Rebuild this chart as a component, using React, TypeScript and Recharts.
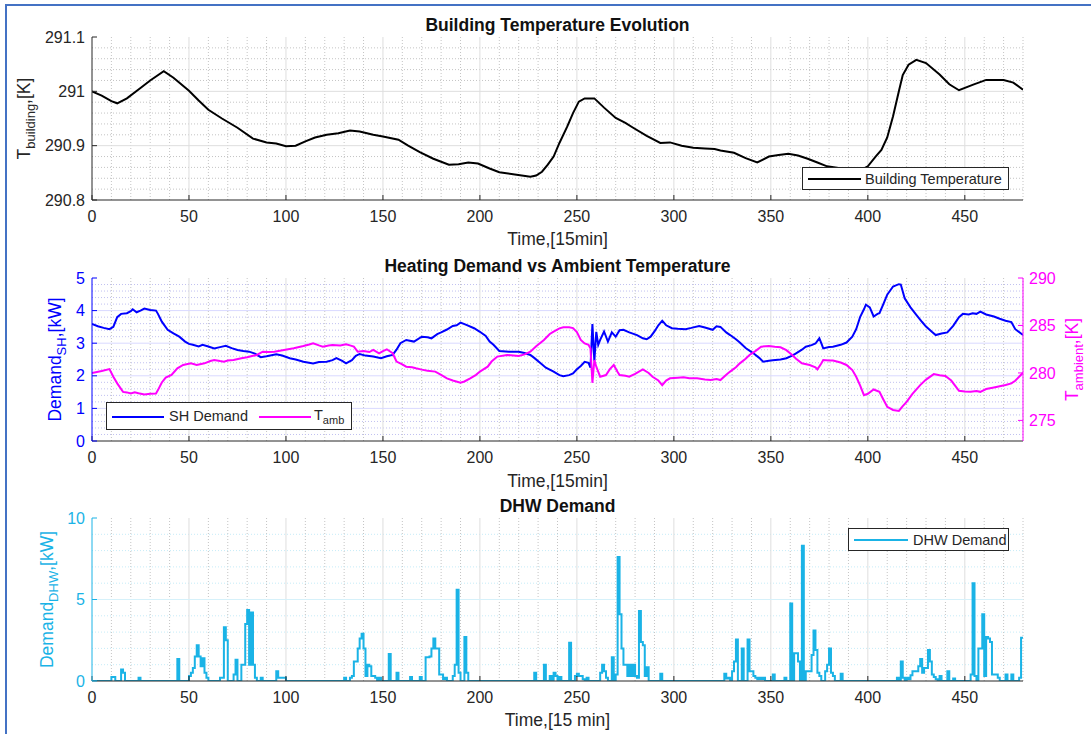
import React from 'react';
import { LineChart, Line, XAxis, YAxis, CartesianGrid } from 'recharts';

const FONT = '"Liberation Sans", Arial, Helvetica, sans-serif';
const DARK = '#262626';
const BLUE = '#0000FF';
const MAGENTA = '#FF00FF';
const CYAN = '#1AB3E6';

// Time axis (15-minute steps)
const timeTicks = [0, 50, 100, 150, 200, 250, 300, 350, 400, 450];
const timeMinor = Array.from({ length: 48 }, (_, i) => (i + 1) * 10).filter((t) => t % 50 !== 0);

// Building temperature [K]
const buildingTime = [
  0, 5, 10, 13, 18, 25, 30, 37, 42, 50, 55, 60, 67, 75, 83, 90, 95, 100, 105, 110, 115, 121, 127, 133, 138,
  145, 150, 158, 163, 169, 176, 184, 189, 194, 199, 205, 210, 218, 226, 229, 232, 235, 238, 241, 245, 248,
  251, 254, 259, 264, 270, 275, 279, 286, 293, 298, 304, 310, 316, 321, 324, 331, 337, 343, 349, 354, 359,
  364, 369, 374, 379, 390, 398, 400, 404, 407, 410, 413, 416, 418, 421, 425, 430, 437, 442, 447, 454, 461,
  470, 475, 480,
];
const buildingTemp = [
  291.0, 290.992, 290.982, 290.978, 290.987, 291.006, 291.02, 291.037, 291.025, 291.001, 290.983, 290.966,
  290.95, 290.933, 290.913, 290.906, 290.904, 290.899, 290.9, 290.908, 290.915, 290.92, 290.923, 290.928,
  290.926, 290.92, 290.917, 290.911, 290.9, 290.888, 290.876, 290.865, 290.866, 290.869, 290.867, 290.858,
  290.851, 290.847, 290.843, 290.845, 290.852, 290.865, 290.88, 290.905, 290.935, 290.96, 290.981, 290.987,
  290.987, 290.97, 290.951, 290.942, 290.933, 290.918, 290.905, 290.906, 290.9, 290.896, 290.895, 290.894,
  290.891, 290.887, 290.877, 290.869, 290.88, 290.883, 290.885, 290.882, 290.876, 290.869, 290.862, 290.856,
  290.858, 290.862, 290.88, 290.892, 290.915, 290.954, 291.0, 291.03, 291.049, 291.058, 291.052, 291.031,
  291.013, 291.002, 291.012, 291.021, 291.021, 291.016, 291.003,
];
const buildingTicks = [290.8, 290.9, 291, 291.1];

// Space-heating demand [kW]
const shTime = [
  0, 3, 6, 9, 11, 13, 15, 18, 20, 21, 23, 25, 27, 30, 33, 34, 36, 39, 42, 45, 48, 50, 52, 55, 57, 60, 63, 66,
  69, 72, 75, 78, 81, 84, 87, 90, 95, 98, 102, 105, 109, 114, 117, 121, 124, 126, 129, 131, 134, 136, 138,
  141, 145, 149, 152, 155, 157, 159, 162, 166, 170, 173, 175, 178, 180, 183, 186, 188, 190, 193, 197, 200,
  203, 205, 207, 210, 215, 220, 223, 226, 228, 231, 234, 238, 241, 243, 246, 248, 250, 252, 254, 256, 257,
  258, 259, 260, 261, 262, 264, 266, 268, 270, 272, 274, 277, 281, 284, 286, 288, 290, 292, 294, 296, 299,
  302, 306, 309, 313, 316, 320, 322, 324, 327, 329, 332, 334, 337, 341, 344, 346, 349, 351, 355, 358, 361,
  363, 366, 368, 371, 373, 375, 376, 377, 380, 382, 386, 389, 392, 394, 396, 398, 399, 401, 403, 405, 406,
  408, 410, 413, 416, 417, 419, 422, 425, 428, 430, 433, 435, 438, 441, 444, 447, 449, 452, 454, 456, 458,
  461, 465, 468, 471, 474, 476, 480,
];
const shDemand = [
  3.59, 3.52, 3.47, 3.43, 3.5, 3.8, 3.9, 3.92, 3.98, 4.04, 3.95, 4.0, 4.06, 4.02, 4.0, 3.9, 3.66, 3.41, 3.3,
  3.2, 3.05, 2.98, 2.95, 2.9, 2.95, 2.9, 2.84, 2.88, 2.92, 2.85, 2.79, 2.76, 2.74, 2.68, 2.57, 2.6, 2.66,
  2.62, 2.54, 2.5, 2.43, 2.38, 2.42, 2.43, 2.48, 2.54, 2.46, 2.38, 2.48, 2.61, 2.67, 2.62, 2.59, 2.54, 2.6,
  2.64, 2.8, 3.0, 3.1, 3.05, 3.2, 3.18, 3.15, 3.28, 3.33, 3.42, 3.53, 3.55, 3.63, 3.56, 3.46, 3.35, 3.22,
  3.05, 2.95, 2.76, 2.74, 2.74, 2.7, 2.64, 2.55, 2.4, 2.25, 2.13, 2.02, 1.99, 2.02, 2.07, 2.2, 2.3, 2.43,
  2.4, 2.25, 3.59, 2.45, 3.35, 2.95, 3.1, 3.36, 3.05, 3.33, 3.2, 3.4, 3.41, 3.33, 3.25, 3.15, 3.12, 3.2,
  3.36, 3.55, 3.69, 3.55, 3.46, 3.44, 3.43, 3.47, 3.53, 3.48, 3.41, 3.52, 3.5, 3.33, 3.25, 3.12, 3.02, 2.85,
  2.69, 2.55, 2.43, 2.46, 2.48, 2.5, 2.54, 2.62, 2.69, 2.8, 2.89, 2.94, 2.99, 3.15, 3.0, 2.84, 2.88, 2.89,
  2.95, 3.02, 3.2, 3.43, 3.8, 4.04, 4.18, 4.1, 3.82, 3.9, 3.92, 4.2, 4.49, 4.74, 4.81, 4.8, 4.38, 4.1, 3.87,
  3.65, 3.51, 3.35, 3.25, 3.3, 3.33, 3.53, 3.8, 3.9, 3.88, 3.92, 3.9, 3.97, 3.88, 3.82, 3.75, 3.69, 3.65,
  3.43, 3.25,
];
const shTicks = [0, 1, 2, 3, 4, 5];

// Ambient temperature [K]
const ambTime = [
  0, 5, 9, 11, 13, 16, 18, 20, 22, 24, 27, 30, 33, 34, 36, 38, 41, 44, 47, 51, 54, 58, 61, 63, 66, 68, 70, 73,
  77, 80, 83, 85, 88, 91, 94, 99, 104, 109, 112, 114, 117, 119, 122, 124, 128, 131, 133, 135, 137, 140, 143,
  145, 148, 150, 152, 155, 157, 160, 162, 165, 167, 170, 173, 177, 180, 183, 186, 190, 192, 195, 198, 200,
  202, 204, 206, 209, 214, 220, 223, 226, 229, 233, 236, 238, 241, 243, 246, 248, 250, 252, 254, 256, 257,
  258, 259, 260, 262, 265, 267, 269, 271, 272, 275, 277, 280, 284, 287, 289, 292, 294, 296, 298, 302, 305,
  308, 312, 316, 319, 322, 324, 327, 329, 332, 334, 337, 339, 342, 345, 349, 352, 355, 358, 361, 363, 366,
  370, 373, 374, 376, 377, 380, 382, 386, 389, 392, 394, 396, 398, 400, 403, 406, 408, 410, 413, 416, 418,
  420, 423, 427, 430, 434, 437, 440, 443, 447, 450, 453, 456, 458, 461, 465, 468, 471, 474, 476, 478, 480,
];
const ambTemp = [
  280.0, 280.2, 280.4, 279.6, 278.9, 278.0, 277.95, 277.84, 277.95, 277.85, 277.74, 277.8, 277.84, 278.19,
  279.0, 279.5, 279.78, 280.49, 280.84, 281.01, 280.84, 281.01, 281.25, 281.36, 281.25, 281.19, 281.3,
  281.36, 281.55, 281.65, 281.8, 281.89, 282.24, 282.2, 282.24, 282.42, 282.6, 282.84, 283.0, 283.13, 282.9,
  282.77, 282.9, 282.95, 282.9, 283.02, 282.9, 282.77, 282.24, 282.3, 282.2, 282.42, 282.07, 282.3, 282.49,
  282.07, 281.2, 280.9, 280.66, 280.6, 280.49, 280.35, 280.23, 280.14, 279.8, 279.43, 279.2, 278.96, 279.1,
  279.43, 279.8, 280.14, 280.4, 280.66, 281.2, 281.72, 281.89, 281.78, 281.95, 282.24, 282.8, 283.48, 284.1,
  284.36, 284.7, 284.82, 284.8, 284.72, 284.3, 283.48, 283.1, 282.95, 282.6, 278.96, 281.36, 280.66, 279.6,
  279.78, 280.4, 280.84, 280.1, 279.78, 279.7, 279.6, 279.9, 280.38, 280.0, 279.6, 279.2, 278.72, 279.2,
  279.43, 279.5, 279.55, 279.45, 279.43, 279.3, 279.25, 279.35, 279.25, 279.8, 280.14, 280.6, 281.01, 281.5,
  281.89, 282.3, 282.77, 282.84, 282.75, 282.7, 282.4, 281.89, 281.5, 281.01, 280.84, 280.6, 280.38, 281.0,
  281.36, 281.3, 281.3, 281.1, 280.84, 280.3, 279.6, 278.7, 277.66, 277.8, 278.26, 278.01, 277.2, 276.43,
  276.1, 276.0, 276.5, 276.96, 277.8, 278.72, 279.3, 279.88, 279.75, 279.67, 279.2, 278.12, 278.05, 278.01,
  278.1, 278.01, 278.3, 278.47, 278.6, 278.72, 278.9, 279.18, 279.6, 280.02,
];
const ambTicks = [275, 280, 285, 290];

// Domestic hot water demand [kW]: non-zero steps only, every other step is 0
const dhwTimes = [
  10, 11, 15, 16, 24, 44, 50, 51, 52, 53, 54, 55, 56, 57, 58, 59, 66, 67, 68, 69, 73, 74, 77, 78, 79, 80, 81,
  82, 83, 84, 87, 95, 96, 97, 98, 99, 130, 133, 134, 135, 136, 137, 138, 139, 140, 141, 142, 143, 144, 145,
  146, 148, 153, 157, 164, 169, 172, 173, 174, 175, 176, 177, 178, 179, 180, 181, 182, 186, 187, 188, 189,
  192, 193, 228, 233, 236, 238, 239, 241, 246, 249, 250, 251, 252, 253, 255, 262, 263, 264, 265, 268, 270,
  271, 272, 273, 274, 275, 276, 277, 278, 279, 280, 281, 282, 283, 284, 285, 286, 293, 326, 327, 328, 330,
  331, 332, 335, 338, 339, 340, 341, 342, 343, 344, 345, 346, 351, 357, 360, 362, 363, 364, 366, 368, 369,
  370, 371, 372, 373, 374, 375, 378, 379, 380, 381, 382, 386, 415, 417, 418, 420, 421, 422, 423, 424, 425,
  426, 427, 428, 429, 430, 431, 432, 433, 434, 435, 437, 441, 444, 453, 454, 455, 457, 458, 459, 460, 461,
  462, 463, 464, 465, 466, 467, 471, 474, 478, 479, 480,
];
const dhwValues = [
  0.25, 0.25, 0.7, 0.5, 0.2, 1.35, 0.3, 0.5, 0.8, 1.5, 2.2, 1.5, 0.9, 1.4, 0.5, 0.2, 0.2, 0.2, 3.3, 2.5, 0.4,
  1.3, 1.0, 1.0, 3.5, 4.35, 1.0, 4.2, 1.0, 0.2, 0.2, 0.6, 0.2, 0.2, 0.2, 0.2, 0.2, 0.2, 0.3, 1.2, 1.2, 2.0,
  2.6, 2.9, 2.0, 0.3, 1.0, 0.9, 0.3, 0.3, 0.2, 0.2, 1.65, 0.5, 0.25, 0.25, 1.45, 1.45, 1.5, 2.0, 2.6, 2.0,
  2.0, 0.4, 0.4, 0.1, 0.2, 0.3, 1.0, 5.6, 0.5, 2.7, 0.5, 0.5, 1.0, 0.3, 0.5, 0.3, 0.25, 2.35, 0.3, 0.45,
  0.3, 0.3, 0.1, 0.2, 0.5, 1.0, 0.6, 0.2, 1.45, 0.4, 7.6, 4.1, 2.0, 1.0, 1.0, 0.3, 1.0, 0.3, 1.0, 0.3, 0.2,
  4.3, 2.4, 2.2, 0.3, 0.85, 0.45, 0.45, 0.15, 0.2, 0.6, 1.2, 2.55, 2.0, 2.55, 0.6, 0.6, 0.3, 0.2, 0.1, 0.2,
  0.1, 0.2, 0.4, 0.2, 4.75, 1.7, 1.7, 1.2, 8.3, 0.6, 0.6, 0.6, 1.6, 3.1, 1.9, 0.5, 0.3, 0.6, 1.0, 2.0, 0.5,
  0.3, 0.45, 0.2, 1.2, 0.2, 0.2, 0.1, 0.35, 0.6, 0.6, 0.6, 0.9, 1.35, 0.5, 0.8, 0.8, 1.9, 1.2, 0.4, 0.25,
  0.1, 0.3, 0.6, 0.15, 0.4, 6.0, 0.3, 2.0, 2.0, 4.1, 0.3, 2.7, 2.6, 2.4, 0.4, 0.4, 0.4, 0.2, 0.4, 0.4, 0.2,
  2.65, 2.65,
];
const dhwTicks = [0, 5, 10];

const buildingData = buildingTime.map((t, i) => ({ t, v: buildingTemp[i] }));
const shData = shTime.map((t, i) => ({ t, sh: shDemand[i] }));
const ambData = ambTime.map((t, i) => ({ t, amb: ambTemp[i] }));
const dhwLookup = new Map(dhwTimes.map((t, i) => [t, dhwValues[i]] as [number, number]));
const dhwData = Array.from({ length: 481 }, (_, t) => ({ t, dhw: dhwLookup.get(t) ?? 0 }));

const minorValues = (lo: number, hi: number, step: number, major: number[]) => {
  const out: number[] = [];
  const n = Math.round((hi - lo) / step);
  for (let i = 1; i < n; i++) {
    const v = +(lo + i * step).toFixed(4);
    if (!major.some((m) => Math.abs(m - v) < 1e-6)) out.push(v);
  }
  return out;
};

const tickFont = { fontSize: 16, fontFamily: FONT };
const fmt = (v: number) => String(+Number(v).toFixed(2));

const timeAxis = (
  <XAxis
    dataKey="t"
    type="number"
    domain={[0, 480]}
    ticks={timeTicks}
    interval={0}
    height={25}
    tickSize={-5}
    tickMargin={16}
    stroke={DARK}
    tick={{ ...tickFont, fill: DARK }}
    allowDataOverflow
  />
);

const topAxis = (
  <XAxis
    xAxisId="top"
    orientation="top"
    type="number"
    domain={[0, 480]}
    ticks={timeTicks}
    interval={0}
    height={0}
    tickSize={-5}
    tick={false}
    stroke={DARK}
  />
);

const sub = (main: string, s: string, rest: string) => (
  <>
    {main}
    <tspan fontSize={13} dy={5}>{s}</tspan>
    <tspan dy={-5}>{rest}</tspan>
  </>
);

const Labels = () => (
  <svg width={1091} height={734} style={{ position: 'absolute', left: 0, top: 0, pointerEvents: 'none' }}>
    <g fontFamily={FONT}>
      <text x={557.5} y={31} textAnchor="middle" fontWeight="bold" fontSize={17.5} fill="#111">
        Building Temperature Evolution
      </text>
      <text x={557.5} y={271.5} textAnchor="middle" fontWeight="bold" fontSize={17.5} fill="#111">
        Heating Demand vs Ambient Temperature
      </text>
      <text x={557.5} y={511.5} textAnchor="middle" fontWeight="bold" fontSize={17.5} fill="#111">
        DHW Demand
      </text>
      <text x={557.5} y={244.5} textAnchor="middle" fontSize={17.5} fill={DARK}>Time,[15min]</text>
      <text x={557.5} y={486.5} textAnchor="middle" fontSize={17.5} fill={DARK}>Time,[15min]</text>
      <text x={557.5} y={726} textAnchor="middle" fontSize={17.5} fill={DARK}>Time,[15 min]</text>
      <text x={30} y={118.5} transform="rotate(-90 30 118.5)" textAnchor="middle" fontSize={17.5} fill={DARK}>
        {sub('T', 'building', ',[K]')}
      </text>
      <text x={61} y={359.5} transform="rotate(-90 61 359.5)" textAnchor="middle" fontSize={17.5} fill={BLUE}>
        {sub('Demand', 'SH', ',[kW]')}
      </text>
      <text x={1078} y={359.5} transform="rotate(-90 1078 359.5)" textAnchor="middle" fontSize={17.5} fill={MAGENTA}>
        {sub('T', 'ambient', ',[K]')}
      </text>
      <text x={53} y={599.5} transform="rotate(-90 53 599.5)" textAnchor="middle" fontSize={17.5} fill={CYAN}>
        {sub('Demand', 'DHW', ',[kW]')}
      </text>
    </g>
  </svg>
);

const legendText: React.CSSProperties = {
  position: 'absolute',
  fontFamily: FONT,
  fontSize: 14.5,
  color: DARK,
  lineHeight: '16px',
  whiteSpace: 'nowrap',
};

const LegendBox = ({
  left,
  top,
  width,
  height,
  children,
}: {
  left: number;
  top: number;
  width: number;
  height: number;
  children: React.ReactNode;
}) => (
  <div
    style={{
      position: 'absolute',
      left,
      top,
      width,
      height,
      boxSizing: 'border-box',
      border: `1px solid ${DARK}`,
      background: '#fff',
    }}
  >
    {children}
  </div>
);

const Swatch = ({ left, top, width, color }: { left: number; top: number; width: number; color: string }) => (
  <div style={{ position: 'absolute', left, top, width, height: 2, background: color }} />
);

export default function App() {
  const bMinorY = minorValues(290.8, 291.1, 0.02, buildingTicks);
  const shMinorY = minorValues(0, 5, 0.2, shTicks);
  const dhwMinorY = minorValues(0, 10, 1, dhwTicks);

  return (
    <div style={{ position: 'relative', width: 1091, height: 734, background: '#fff', overflow: 'hidden' }}>
      <style>{'body{margin:0;background:#fff}'}</style>
      <div
        style={{
          position: 'absolute',
          left: 5,
          top: 4,
          right: 0,
          bottom: 0,
          borderLeft: '2px solid #4472C4',
          borderTop: '2px solid #4472C4',
        }}
      />

      {/* Building temperature */}
      <div style={{ position: 'absolute', left: 0, top: 0 }}>
        <LineChart width={1091} height={240} data={buildingData} margin={{ top: 37, right: 68, bottom: 15, left: 22 }}>
          <CartesianGrid horizontal={false} verticalValues={timeMinor} stroke="#c4c4c4" strokeDasharray="1 2" />
          <CartesianGrid vertical={false} horizontalValues={bMinorY} stroke="#c4c4c4" strokeDasharray="1 2" />
          <CartesianGrid horizontal={false} verticalValues={timeTicks.slice(1)} stroke="#dedede" />
          <CartesianGrid vertical={false} horizontalValues={[290.9, 291]} stroke="#dedede" />
          {timeAxis}
          {topAxis}
          <YAxis
            type="number"
            domain={[290.8, 291.1]}
            ticks={buildingTicks}
            interval={0}
            width={70}
            tickSize={-5}
            tickMargin={12}
            stroke={DARK}
            tick={{ ...tickFont, fill: DARK }}
            tickFormatter={fmt}
            allowDataOverflow
          />
          <YAxis
            yAxisId="right"
            orientation="right"
            type="number"
            domain={[290.8, 291.1]}
            ticks={buildingTicks}
            interval={0}
            width={0}
            tickSize={-5}
            tick={false}
            stroke={DARK}
          />
          <Line type="linear" dataKey="v" stroke="#000" strokeWidth={2} dot={false} isAnimationActive={false} />
        </LineChart>
      </div>

      {/* Heating demand vs ambient temperature */}
      <div style={{ position: 'absolute', left: 0, top: 250 }}>
        <LineChart width={1091} height={240} margin={{ top: 28, right: 8, bottom: 24, left: 22 }}>
          <CartesianGrid yAxisId="l" horizontal={false} verticalValues={timeMinor} stroke="#c4c4c4" strokeDasharray="1 2" />
          <CartesianGrid yAxisId="l" vertical={false} horizontalValues={shMinorY} stroke="#c0c0f0" strokeDasharray="1 2" />
          <CartesianGrid yAxisId="l" horizontal={false} verticalValues={timeTicks.slice(1)} stroke="#dedede" />
          <CartesianGrid yAxisId="l" vertical={false} horizontalValues={[1, 2, 3, 4]} stroke="#d9d9ff" />
          {timeAxis}
          {topAxis}
          <YAxis
            yAxisId="l"
            type="number"
            domain={[0, 5]}
            ticks={shTicks}
            interval={0}
            width={70}
            tickSize={-5}
            tickMargin={12}
            stroke={BLUE}
            tick={{ ...tickFont, fill: BLUE }}
            allowDataOverflow
          />
          <YAxis
            yAxisId="r"
            orientation="right"
            type="number"
            domain={[272.83, 290]}
            ticks={ambTicks}
            interval={0}
            width={60}
            tickSize={-5}
            tickMargin={11}
            stroke={MAGENTA}
            tick={{ ...tickFont, fill: MAGENTA }}
            allowDataOverflow
          />
          <Line
            yAxisId="l"
            data={shData}
            type="linear"
            dataKey="sh"
            stroke={BLUE}
            strokeWidth={2}
            dot={false}
            isAnimationActive={false}
          />
          <Line
            yAxisId="r"
            data={ambData}
            type="linear"
            dataKey="amb"
            stroke={MAGENTA}
            strokeWidth={2}
            dot={false}
            isAnimationActive={false}
          />
        </LineChart>
      </div>

      {/* Domestic hot water demand */}
      <div style={{ position: 'absolute', left: 0, top: 490 }}>
        <LineChart width={1091} height={244} data={dhwData} margin={{ top: 28, right: 68, bottom: 28, left: 22 }}>
          <CartesianGrid horizontal={false} verticalValues={timeMinor} stroke="#c4c4c4" strokeDasharray="1 2" />
          <CartesianGrid vertical={false} horizontalValues={dhwMinorY} stroke="#c6ecf8" strokeDasharray="1 2" />
          <CartesianGrid horizontal={false} verticalValues={timeTicks.slice(1)} stroke="#dedede" />
          <CartesianGrid vertical={false} horizontalValues={[5]} stroke="#d6f1fa" />
          {timeAxis}
          {topAxis}
          <YAxis
            type="number"
            domain={[0, 10]}
            ticks={dhwTicks}
            interval={0}
            width={70}
            tickSize={-5}
            tickMargin={12}
            stroke={CYAN}
            tick={{ ...tickFont, fill: CYAN }}
            allowDataOverflow
          />
          <YAxis
            yAxisId="right"
            orientation="right"
            type="number"
            domain={[0, 10]}
            ticks={dhwTicks}
            interval={0}
            width={0}
            tickSize={-5}
            tick={false}
            stroke={CYAN}
          />
          <Line type="stepAfter" dataKey="dhw" stroke={CYAN} strokeWidth={2} dot={false} isAnimationActive={false} />
        </LineChart>
      </div>

      <Labels />

      <LegendBox left={802} top={167} width={207} height={23}>
        <Swatch left={5} top={10} width={53} color="#000" />
        <span style={{ ...legendText, left: 62, top: 3 }}>Building Temperature</span>
      </LegendBox>

      <LegendBox left={106} top={402} width={246} height={28}>
        <Swatch left={5} top={13} width={52} color={BLUE} />
        <span style={{ ...legendText, left: 62, top: 5 }}>SH Demand</span>
        <Swatch left={152} top={13} width={52} color={MAGENTA} />
        <span style={{ ...legendText, left: 207, top: 4 }}>
          T<sub style={{ fontSize: 11, verticalAlign: -4 }}>amb</sub>
        </span>
      </LegendBox>

      <LegendBox left={848} top={528} width={161} height={23}>
        <Swatch left={5} top={10} width={54} color={CYAN} />
        <span style={{ ...legendText, left: 64, top: 3 }}>DHW Demand</span>
      </LegendBox>
    </div>
  );
}
